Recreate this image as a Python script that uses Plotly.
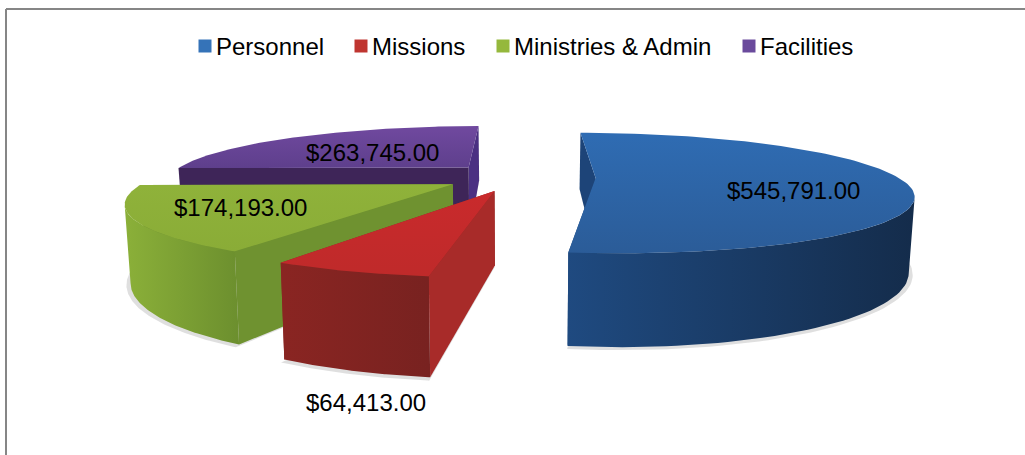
import numpy as np
import plotly.graph_objects as go

categories = ["Personnel", "Missions", "Ministries & Admin", "Facilities"]
values = [545791.00, 64413.00, 174193.00, 263745.00]

# styles per slice: top (far, near), arc wall (left, right), radial faces (start, end)
top_colors = [("#2f6cb3", "#2b5c98"), ("#c92a2c", "#bf2a2a"), ("#8fb23a", "#8aac37"), ("#70499f", "#5e3f8c")]
arc_colors = [("#1f4a80", "#142c4b"), ("#8a2522", "#782220"), ("#8bb039", "#6c8f2e"), ("#3e2558", "#3a2354")]
face_colors = [("#1d4478", "#1f4a80"), ("#a82b29", "#8a2522"), ("#6f9230", "#6f9230"), ("#3e2558", "#4b3082")]
legend_colors = ["#3573b8", "#bf3530", "#95b83c", "#6a4a9c"]

# view geometry of the tilted, exploded pie (pixels on hidden axes)
CX, CY = 520, 177
A, B, H = 302, 56, 70
K = 0.25
PULL = 0.25
START = 0.0
BOTTOM_PINCH = 0.985


def proj(X, Y, z=0.0):
    D = 1 + K * Y
    x = A * X / D * (1 - (1 - BOTTOM_PINCH) * z)
    y = -B * Y / D + z * H / D
    return CX + x, CY + y


def poly(fig, x, y, c0, c1=None, kind="vertical"):
    x, y = np.asarray(x, float), np.asarray(y, float)
    kw = {}
    if c1 is None:
        kw["fillcolor"] = c0
    else:
        lo, hi = (x.min(), x.max()) if kind == "horizontal" else (y.min(), y.max())
        kw["fillgradient"] = dict(type=kind, colorscale=[[0, c0], [1, c1]], start=lo, stop=hi)
    fig.add_trace(go.Scatter(x=np.r_[x, x[0]], y=np.r_[y, y[0]], mode="lines", line=dict(width=0),
                             fill="toself", hoverinfo="skip", showlegend=False, **kw))


fig = go.Figure()
total = sum(values)
spans = [v / total * 360 for v in values]
starts = START + np.cumsum([0] + spans[:-1])
slices = []
for i, (s, w) in enumerate(zip(starts, spans)):
    t = np.radians(np.linspace(s, s + w, 120))
    b = np.radians(s + w / 2)
    ax, ay = PULL * np.sin(b), PULL * np.cos(b)
    slices.append((i, t, ax, ay))

# soft ground shadows
for i, t, ax, ay in slices:
    X = ax + 1.012 * np.sin(t)
    Y = ay + 1.012 * np.cos(t)
    sx, sy = proj(np.r_[ax, X], np.r_[ay, Y], 1.015)
    poly(fig, sx, sy, "rgba(140,140,140,0.28)")

for i, t, ax, ay in [slices[3], slices[2], slices[1], slices[0]]:
    X, Y = ax + np.sin(t), ay + np.cos(t)
    # radial faces, the closing one first so that the opening one stays on top
    for end, col in [(-1, face_colors[i][1]), (0, face_colors[i][0])]:
        p = [proj(ax, ay, 0), proj(X[end], Y[end], 0), proj(X[end], Y[end], 1), proj(ax, ay, 1)]
        poly(fig, [q[0] for q in p], [q[1] for q in p], col)
    # outer wall, only the part that faces the viewer (rim running leftwards on screen)
    tx, ty = proj(X, Y, 0)
    front = np.gradient(tx) < 0
    if front.any():
        bx, by = proj(X[front], Y[front], 1)
        poly(fig, np.r_[tx[front], bx[::-1]], np.r_[ty[front], by[::-1]], *arc_colors[i], kind="horizontal")
    # top face
    sx, sy = proj(np.r_[ax, X], np.r_[ay, Y], 0)
    poly(fig, sx, sy, *top_colors[i], kind="vertical")

# value labels
label_pos = [(793, 190), (366, 402), (240, 207), (372, 152)]
for v, (lx, ly) in zip(values, label_pos):
    fig.add_annotation(x=lx, y=ly, text=f"${v:,.2f}", showarrow=False,
                       font=dict(family="Liberation Sans", size=24, color="black"))

# legend row
legend_x = [205, 361, 503, 749]
for name, c, lx in zip(categories, legend_colors, legend_x):
    fig.add_trace(go.Scatter(x=[lx], y=[46], mode="markers", name=name, showlegend=False, hoverinfo="skip",
                             marker=dict(symbol="square", size=13, color=c, line=dict(width=0))))
    fig.add_annotation(x=lx + 9, y=46, text=name, showarrow=False, xanchor="left",
                       font=dict(family="Liberation Sans", size=24, color="black"))

# chart frame (top and left edges are in view)
for x0, y0, x1, y1 in [(6, 9, 1025, 9), (6, 9, 6, 455)]:
    fig.add_shape(type="line", x0=x0, y0=y0, x1=x1, y1=y1, line=dict(color="#868686", width=2))

fig.update_layout(width=1025, height=455, margin=dict(l=0, r=0, t=0, b=0), showlegend=False,
                  paper_bgcolor="white", plot_bgcolor="white",
                  xaxis=dict(range=[0, 1025], visible=False, fixedrange=True),
                  yaxis=dict(range=[455, 0], visible=False, fixedrange=True))
fig.write_html("out.html", config={"displayModeBar": False},
               post_script="document.body.style.margin='0';document.body.style.overflow='hidden';")
